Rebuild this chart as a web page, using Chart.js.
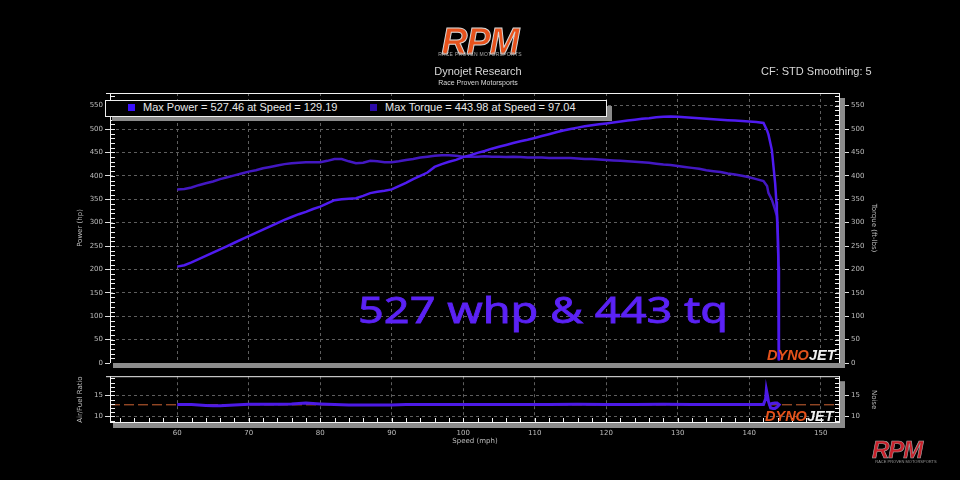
<!DOCTYPE html>
<html>
<head>
<meta charset="utf-8">
<script src="https://cdn.jsdelivr.net/npm/chart.js@4.4.1/dist/chart.umd.min.js"></script>
<style>
  html, body { margin: 0; padding: 0; background: #000; }
  #wrap { position: relative; width: 960px; height: 480px; overflow: hidden; background: #000;
          font-family: "Liberation Sans", Arial, sans-serif; }
  canvas { position: absolute; left: 0; }
  #mainChart { top: 0; }
  #afrChart { top: 370px; }
  .txt { position: absolute; white-space: nowrap; line-height: 1; }
  .logo { font-weight: bold; font-style: italic; }
</style>
</head>
<body>
<div id="wrap">
  <canvas id="mainChart" width="960" height="370"></canvas>
  <canvas id="afrChart" width="960" height="110"></canvas>

  <!-- header -->
  <div class="txt logo" style="left:428px; top:24px; width:104px; text-align:center; font-size:36px; color:#e8521c; -webkit-text-stroke:1px #d8d8d8; letter-spacing:-1px;">RPM</div>
  <div class="txt" style="left:426px; top:52px; width:108px; text-align:center; font-size:5px; color:#aaa; letter-spacing:0.3px;">RACE PROVEN MOTORSPORTS</div>
  <div class="txt" style="left:378px; top:66px; width:200px; text-align:center; font-size:11px; color:#d8d8d8;">Dynojet Research</div>
  <div class="txt" style="left:378px; top:79px; width:200px; text-align:center; font-size:7px; color:#d8d8d8;">Race Proven Motorsports</div>
  <div class="txt" style="left:761px; top:66px; font-size:11px; color:#d8d8d8;">CF: STD Smoothing: 5</div>

  <!-- legend box -->
  <div class="txt" style="left:112px; top:106px; width:500px; height:15px; background:#8a8a8a;"></div>
  <div class="txt" style="left:105px; top:100px; width:500px; height:15px; border:1px solid #eee; background:#000;"></div>
  <div class="txt" style="left:128px; top:104px; width:7px; height:7px; background:#3a10ff;"></div>
  <div class="txt" style="left:143px; top:102px; font-size:11px; color:#e8e8e8;" id="legPower"></div>
  <div class="txt" style="left:370px; top:104px; width:7px; height:7px; background:#2c0ba8;"></div>
  <div class="txt" style="left:385px; top:102px; font-size:11px; color:#e8e8e8;" id="legTorque"></div>

  <!-- big annotation -->
  <div class="txt" style="left:358px; top:290px; font-family:'Noto Sans', sans-serif; font-size:37px; color:#5b22f5; -webkit-text-stroke:0.8px #5b22f5; transform:scaleX(1.22); transform-origin:left top;">527 whp &amp; 443 tq</div>

  <!-- dynojet marks -->
  <div class="txt logo" style="left:767px; top:348px; font-size:14.5px;"><span style="color:#e4521b">DYNO</span><span style="color:#eeeeee">JET</span></div>
  <div class="txt logo" style="left:765px; top:409px; font-size:14.5px;"><span style="color:#e4521b">DYNO</span><span style="color:#eeeeee">JET</span></div>

  <!-- bottom right logo -->
  <div class="txt logo" style="left:872px; top:438px; font-size:24px; color:#c8202a; -webkit-text-stroke:0.6px #aaa; letter-spacing:-1px;">RPM</div>
  <div class="txt" style="left:866px; top:460px; width:80px; text-align:center; font-size:4px; color:#999;">RACE PROVEN MOTORSPORTS</div>
</div>

<script>
// ---- data ----
const speed = [60,61,62,63,64,65,66,67,68,69,70,71,72,73,74,75,76,77,78,79,80,81,82,83,84,85,86,87,88,89,
  90,91,92,93,94,95,96,97,98,99,100,101,102,103,104,105,106,107,108,109,110,111,112,113,114,115,116,117,118,119,
  120,121,122,123,124,125,126,127,128,129,130,131,132,133,134,135,136,137,138,139,140,141,142,
  142.5,142.7,143.17,143.63,143.8,143.87,144.0,144.1,144.15];

const power = [206,209,215,222,229,236,243,250,257,264,271,278,285,292,299,306,312,318,323,329,334,341,348,350,351,352,357,363,366,368,
  371,378,385,393,400,407,419,425,430,434,440,444,449,453,458,462,466,470,474,477,481,485,489,493,497,500,503,506,508,510,
  512,514,516,518,520,522,523,525,526,527,526,525,524,523,522,521,520,519,518,517,516,515,513,
  497,488,455,384,345,327,278,206,7];

const torque = [371,372,375,380,384,388,393,397,401,405,409,412,416,419,422,425,427,428,429,429,429,432,436,436,431,427,428,432,431,429,
  429,431,434,436,439,441,443,444,444,443,441,441,441,442,441,441,440,441,440,439,439,439,438,438,438,438,437,436,436,435,
  434,433,432,431,430,429,428,426,424,423,421,419,417,415,412,410,408,405,403,400,397,393,389,
  378,363,349,327,318,314,272,203,5];

const afrSpeed = [60,62,64,65,66,68,70,72,74,76,78,80,82,84,86,88,90,92,94,96,98,100,104,108,112,116,120,124,128,132,136,140,142,
  142.3,142.4,142.55,142.7,143.0,143.3,143.6,143.9,144.2,143.9,143.6,143.2,142.9];
const afr = [12.8,12.8,12.6,12.5,12.5,12.7,12.9,12.9,12.9,12.95,13.15,12.95,12.8,12.7,12.7,12.7,12.7,12.8,12.85,12.85,12.85,12.85,12.85,12.85,12.85,12.9,12.85,12.85,12.9,12.85,12.85,12.85,12.85,
  14.2,16.3,15.0,13.5,12.0,11.9,11.9,12.2,12.8,13.2,13.2,13.05,12.9];
const afrTarget = 12.75;

const speedTicks = [60,70,80,90,100,110,120,130,140,150];
const powerTicks = [0,50,100,150,200,250,300,350,400,450,500,550];
const afrTicks = [10,15];

const maxPower = { value: 527.46, speed: 129.19 };
const maxTorque = { value: 443.98, speed: 97.04 };

document.getElementById("legPower").textContent =
  "Max Power = " + maxPower.value + " at Speed = " + maxPower.speed;
document.getElementById("legTorque").textContent =
  "Max Torque = " + maxTorque.value + " at Speed = " + maxTorque.speed;

const SPEED_MIN = 50.6, SPEED_MAX = 152.7;
const GRID = "#5e5e5e";
const LABEL = "#bdbdbd";

Chart.defaults.font.family = "'DejaVu Sans', sans-serif";
Chart.defaults.color = LABEL;
Chart.defaults.animation = false;

const pts = (xs, ys) => xs.map((x, i) => ({ x: x, y: ys[i] }));
const fixedTicks = (list) => (scale) => { scale.ticks = list.map((v) => ({ value: v })); };

/* ===== frame: white border, grey shadow, minor ticks ===== */
const framePlugin = {
  id: "frame",
  afterDraw(chart, args, opts) {
    const { ctx, chartArea: a } = chart;
    ctx.save();
    ctx.fillStyle = "#8c8c8c";
    ctx.fillRect(a.left + 3, a.bottom, a.right - a.left + 2, 5);
    ctx.fillRect(a.right, a.top + 5, 5, a.bottom - a.top);

    ctx.strokeStyle = "#f2f2f2";
    ctx.lineWidth = 1;
    ctx.beginPath();
    ctx.moveTo(a.left - 4, a.top + 0.5); ctx.lineTo(a.right, a.top + 0.5);
    ctx.moveTo(a.left + 0.5, a.top); ctx.lineTo(a.left + 0.5, a.bottom);
    ctx.moveTo(a.right - 0.5, a.top); ctx.lineTo(a.right - 0.5, a.bottom);
    if (opts.xLine) { ctx.moveTo(a.left, a.bottom - 0.5); ctx.lineTo(a.right, a.bottom - 0.5); }

    const y = chart.scales.y;
    for (let v = opts.yFrom; v <= y.max; v += opts.yStep) {
      const py = Math.round(y.getPixelForValue(v)) + 0.5;
      if (py < a.top + 2 || py > a.bottom - 1) continue;
      ctx.moveTo(a.left, py); ctx.lineTo(a.left + 5, py);
      ctx.moveTo(a.right - 5, py); ctx.lineTo(a.right, py);
    }
    if (opts.xStep) {
      const x = chart.scales.x;
      for (let v = 52; v <= x.max; v += opts.xStep) {
        const px = Math.round(x.getPixelForValue(v)) + 0.5;
        ctx.moveTo(px, a.bottom); ctx.lineTo(px, a.bottom - 5);
      }
    }
    ctx.stroke();
    ctx.restore();
  },
};

const yAxis = (ticks, min, max, title, side, width, tickLen) => ({
  position: side,
  min: min,
  max: max,
  afterBuildTicks: fixedTicks(ticks),
  afterFit: (s) => { s.width = width; },
  border: { display: false, dash: [3, 3] },
  grid: {
    drawOnChartArea: side === "left",
    color: (c) => (c.tick && c.tick.value === 0 ? "rgba(0,0,0,0)" : GRID),
    tickColor: "#e0e0e0",
    tickLength: tickLen,
  },
  ticks: { color: LABEL, font: { size: 7 }, padding: 2 },
  title: { display: true, text: title, color: LABEL, font: { size: 7 }, padding: 2 },
});

/* ===== POWER / TORQUE ===== */
new Chart(document.getElementById("mainChart"), {
  type: "line",
  data: {
    datasets: [
      {
        label: "Power (hp)",
        data: pts(speed, power),
        borderColor: "#4f1bf0",
        borderWidth: 2.5,
        pointRadius: 0,
        yAxisID: "y",
      },
      {
        label: "Torque (ft-lbs)",
        data: pts(speed, torque),
        borderColor: "#4318c2",
        borderWidth: 2.5,
        pointRadius: 0,
        yAxisID: "yT",
      },
    ],
  },
  options: {
    responsive: false,
    layout: { padding: { left: 74, right: 80, top: 93, bottom: 7 } },
    plugins: { legend: { display: false }, tooltip: { enabled: false }, frame: { yFrom: 0, yStep: 10 } },
    scales: {
      x: {
        type: "linear",
        min: SPEED_MIN,
        max: SPEED_MAX,
        afterBuildTicks: fixedTicks(speedTicks),
        afterFit: (s) => { s.height = 0; },
        border: { display: false, dash: [3, 3] },
        grid: { color: GRID, drawTicks: false },
        ticks: { display: false },
      },
      y: yAxis(powerTicks, 0, 577, "Power (hp)", "left", 36, 5),
      yT: yAxis(powerTicks, 0, 577, "Torque (ft-lbs)", "right", 40, 9),
    },
  },
  plugins: [framePlugin],
});

/* ===== AIR / FUEL ===== */
new Chart(document.getElementById("afrChart"), {
  type: "line",
  data: {
    datasets: [
      {
        label: "Air/Fuel Ratio",
        data: pts(afrSpeed, afr),
        borderColor: "#4c1ae6",
        borderWidth: 3,
        pointRadius: 0,
        yAxisID: "y",
      },
      {
        label: "Target",
        data: [{ x: SPEED_MIN, y: afrTarget }, { x: SPEED_MAX, y: afrTarget }],
        borderColor: "#cf6434",
        borderWidth: 1,
        borderDash: [10, 4],
        pointRadius: 0,
        yAxisID: "y",
      },
    ],
  },
  options: {
    responsive: false,
    layout: { padding: { left: 74, right: 80, top: 3, bottom: 33 } },
    plugins: { legend: { display: false }, tooltip: { enabled: false }, frame: { yFrom: 9, yStep: 1, xStep: 2, xLine: true } },
    scales: {
      x: {
        type: "linear",
        min: SPEED_MIN,
        max: SPEED_MAX,
        afterBuildTicks: fixedTicks(speedTicks),
        afterFit: (s) => { s.height = 24; },
        border: { display: false, dash: [3, 3] },
        grid: { color: GRID, drawTicks: false },
        ticks: { color: LABEL, font: { size: 7 }, padding: 6, maxRotation: 0 },
        title: { display: true, text: "Speed (mph)", color: LABEL, font: { size: 7 }, padding: 2 },
      },
      y: yAxis(afrTicks, 8.44, 19.53, "Air/Fuel Ratio", "left", 36, 5),
      yN: yAxis(afrTicks, 8.44, 19.53, "Noise", "right", 40, 9),
    },
  },
  plugins: [framePlugin],
});
</script>
</body>
</html>
